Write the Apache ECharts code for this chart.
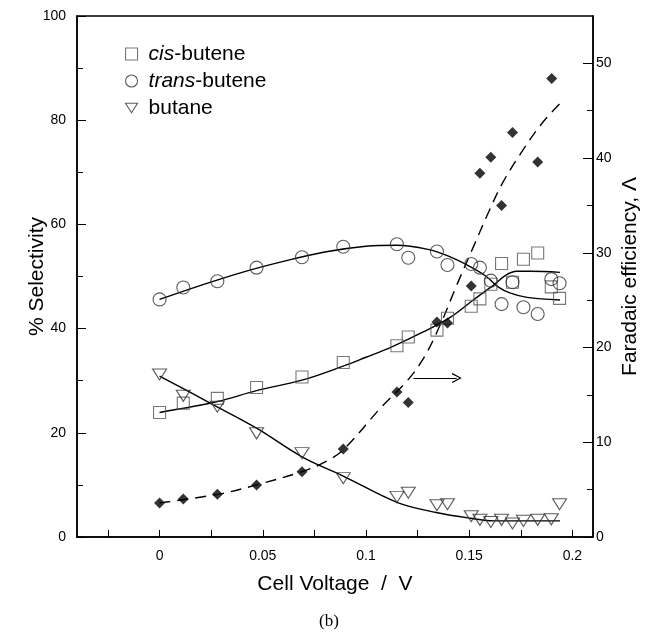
<!DOCTYPE html>
<html>
<head>
<meta charset="utf-8">
<title>Selectivity vs cell voltage</title>
<script src="https://cdn.jsdelivr.net/npm/echarts@6.0.0/dist/echarts.min.js"></script>
<style>
  html, body { margin: 0; padding: 0; background: #fff; }
  #chart { width: 650px; height: 638px; }
</style>
</head>
<body>
<div id="chart"></div>
<script>
  var voltage = [0, 0.0115, 0.028, 0.047, 0.069, 0.089, 0.115, 0.1205, 0.1344, 0.1395, 0.151, 0.1552, 0.1605, 0.1657, 0.171, 0.1763, 0.1832, 0.1898, 0.1938];
  var cisButene = [23.9, 25.7, 26.6, 28.7, 30.7, 33.5, 36.7, 38.4, 39.7, 42.0, 44.3, 45.7, 48.5, 52.5, 48.9, 53.3, 54.5, 48.0, 45.8];
  var transButene = [45.6, 47.9, 49.1, 51.7, 53.7, 55.7, 56.2, 53.6, 54.8, 52.2, 52.4, 51.7, 49.2, 44.7, 48.9, 44.1, 42.8, 49.5, 48.7];
  var butane = [31.2, 27.1, 25.0, 19.9, 16.1, 11.3, 7.7, 8.5, 6.1, 6.3, 4.0, 3.3, 2.9, 3.3, 2.6, 3.1, 3.3, 3.4, 6.3];

  var feVoltage = [0, 0.0115, 0.028, 0.047, 0.069, 0.089, 0.115, 0.1205, 0.1344, 0.1395, 0.151, 0.1552, 0.1605, 0.1657, 0.171, 0.1832, 0.190];
  var faradaic = [3.6, 4.0, 4.5, 5.5, 6.9, 9.3, 15.3, 14.2, 22.7, 22.6, 26.5, 38.4, 40.1, 35.0, 42.7, 39.6, 48.4];

  // fitted curves as drawn in the figure
  var transFitX = [0, 0.02, 0.04, 0.06, 0.08, 0.1, 0.115, 0.13, 0.14, 0.15, 0.158, 0.164, 0.17, 0.178, 0.194];
  var transFitY = [45.6, 48.3, 50.8, 52.9, 54.7, 55.8, 56.0, 55.2, 53.9, 52.0, 50.1, 48.0, 46.8, 46.0, 45.5];
  var cisFitX = [0, 0.028, 0.047, 0.069, 0.089, 0.1, 0.112, 0.128, 0.141, 0.152, 0.162, 0.168, 0.173, 0.18, 0.194];
  var cisFitY = [23.9, 26.0, 28.1, 30.1, 32.8, 34.5, 36.4, 39.4, 42.2, 45.5, 48.4, 50.3, 51.0, 51.0, 50.8];
  var butaneFitX = [0, 0.0245, 0.047, 0.069, 0.089, 0.1153, 0.134, 0.1505, 0.162, 0.194];
  var butaneFitY = [30.9, 25.7, 20.9, 15.4, 11.7, 6.6, 4.7, 3.6, 3.1, 3.1];
  var feFitX = [0, 0.028, 0.047, 0.069, 0.08, 0.089, 0.107, 0.12, 0.128, 0.136, 0.144, 0.152, 0.159, 0.166, 0.175, 0.185, 0.195];
  var feFitY = [3.6, 4.5, 5.5, 6.9, 7.9, 9.2, 13.6, 16.5, 18.9, 22.4, 26.6, 30.6, 34.1, 37.3, 40.5, 43.6, 46.0];

  // arrow pointing at the right axis (x from, x to, left-axis value)
  var arrowX = [0.123, 0.144];
  var arrowY = 30.5;

  // tick positions
  var xTicks = [-0.025, 0, 0.025, 0.05, 0.075, 0.1, 0.125, 0.15, 0.175, 0.2];
  var xLabels = [0, 0.05, 0.1, 0.15, 0.2];
  var feTicks = [0, 10, 20, 30, 40, 50];
  var feMinorTicks = [5, 15, 25, 35, 45];

  var font = 'Liberation Sans';
  var downTriangle = 'path://M0,0L14,0L7,11Z';
  var chevron = 'path://M0,10L5,0L10,10L8.8,10.7L5,2.6L1.2,10.7Z';

  function pairs(xs, ys) {
    return xs.map(function (x, i) { return [x, ys[i]]; });
  }

  function fitLine(name, xs, ys, axis, dashed) {
    return {
      name: name,
      type: 'line',
      yAxisIndex: axis,
      data: pairs(xs, ys),
      smooth: 0.35,
      symbol: 'none',
      silent: true,
      lineStyle: { color: '#000', width: 1.4, type: dashed ? [11, 7] : 'solid' },
      z: 2
    };
  }

  function openMarks(name, ys, symbol, size, color) {
    return {
      name: name,
      type: 'scatter',
      data: pairs(voltage, ys),
      symbol: symbol,
      symbolSize: size,
      itemStyle: { color: 'transparent', borderColor: color, borderWidth: 1.1 },
      z: 3
    };
  }

  var tickStyle = { color: '#000', width: 1 };
  var nameStyle = { fontFamily: font, fontSize: 21, color: '#000' };

  var options = {
    animation: false,
    grid: { left: 77, right: 57, top: 16, bottom: 101, outerBoundsMode: 'none',
      show: true, borderColor: '#000', borderWidth: 1.5 },
    legend: {
      orient: 'vertical',
      left: 120,
      top: 38,
      itemWidth: 12,
      itemHeight: 12,
      itemGap: 5,
      selectedMode: false,
      textStyle: {
        fontFamily: font, fontSize: 21, color: '#000', lineHeight: 22, padding: [0, 0, 0, 6],
        rich: { i: { fontFamily: font, fontSize: 21, fontStyle: 'italic', color: '#000' } }
      },
      formatter: function (name) {
        if (name === 'cis-butene') return '{i|cis}-butene';
        if (name === 'trans-butene') return '{i|trans}-butene';
        return name;
      },
      data: [
        { name: 'cis-butene', icon: 'rect', itemStyle: { color: 'transparent', borderColor: '#555', borderWidth: 1.1 } },
        { name: 'trans-butene', icon: 'circle', itemStyle: { color: 'transparent', borderColor: '#333', borderWidth: 1.1 } },
        { name: 'butane', icon: downTriangle, itemStyle: { color: 'transparent', borderColor: '#333', borderWidth: 1.1 } }
      ]
    },
    xAxis: {
      type: 'value',
      min: -0.04,
      max: 0.21,
      name: 'Cell Voltage  /  V',
      nameLocation: 'middle',
      nameGap: 37,
      nameMoveOverlap: false,
      nameTextStyle: nameStyle,
      axisLine: { show: true, onZero: false, lineStyle: { color: '#000', width: 1.5 } },
      axisTick: { show: true, inside: true, length: 7, customValues: xTicks, lineStyle: tickStyle },
      axisLabel: {
        customValues: xLabels, color: '#000', fontFamily: font, fontSize: 14, margin: 12,
        formatter: function (v) { return String(+v.toFixed(2)); }
      },
      splitLine: { show: false }
    },
    yAxis: [
      {
        type: 'value',
        position: 'left',
        min: 0,
        max: 100,
        interval: 20,
        name: '% Selectivity',
        nameLocation: 'middle',
        nameRotate: 90,
        nameGap: 29,
        nameMoveOverlap: false,
        nameTextStyle: nameStyle,
        axisLine: { show: true, onZero: false, lineStyle: { color: '#000', width: 1.5 } },
        axisTick: { show: true, inside: true, length: 9, lineStyle: tickStyle },
        minorTick: { show: true, splitNumber: 2, length: 6, lineStyle: tickStyle },
        axisLabel: { color: '#000', fontFamily: font, fontSize: 14, margin: 11 },
        splitLine: { show: false }
      },
      {
        type: 'value',
        position: 'right',
        min: 0,
        max: 55,
        name: 'Faradaic efficiency, \u039B',
        nameLocation: 'middle',
        nameRotate: 90,
        nameGap: 27,
        nameMoveOverlap: false,
        nameTextStyle: nameStyle,
        axisLine: { show: true, onZero: false, lineStyle: { color: '#000', width: 1.5 } },
        axisTick: { show: true, inside: true, length: 10, customValues: feTicks, lineStyle: tickStyle },
        axisLabel: { customValues: feTicks, color: '#000', fontFamily: font, fontSize: 14, margin: 3 },
        splitLine: { show: false }
      },
      {
        type: 'value',
        position: 'right',
        min: 0,
        max: 55,
        axisLine: { show: false, onZero: false },
        axisTick: { show: true, inside: true, length: 6, customValues: feMinorTicks, lineStyle: tickStyle },
        axisLabel: { show: false },
        splitLine: { show: false }
      }
    ],
    graphic: [
      {
        type: 'text',
        style: { text: '(b)', x: 329, y: 622, align: 'center', verticalAlign: 'middle',
          fontFamily: 'Liberation Serif', fontSize: 17, fill: '#000' }
      }
    ],
    series: [
      fitLine('trans fit', transFitX, transFitY, 0, false),
      fitLine('cis fit', cisFitX, cisFitY, 0, false),
      fitLine('butane fit', butaneFitX, butaneFitY, 0, false),
      fitLine('fe fit', feFitX, feFitY, 1, true),
      openMarks('cis-butene', cisButene, 'rect', 12, '#555'),
      openMarks('trans-butene', transButene, 'circle', 13, '#333'),
      openMarks('butane', butane, downTriangle, [14, 11], '#333'),
      {
        name: 'Faradaic efficiency',
        type: 'scatter',
        yAxisIndex: 1,
        data: pairs(feVoltage, faradaic),
        symbol: 'diamond',
        symbolSize: 11,
        itemStyle: { color: '#000' },
        z: 4,
        markLine: {
          silent: true,
          symbol: ['none', chevron],
          symbolSize: [10, 10],
          label: { show: false },
          lineStyle: { color: '#000', width: 1, type: 'solid' },
          data: [[
            { xAxis: arrowX[0], yAxis: arrowY * 55 / 100 },
            { xAxis: arrowX[1], yAxis: arrowY * 55 / 100 }
          ]]
        }
      }
    ]
  };

  var myChart = echarts.init(document.getElementById('chart'));
  myChart.setOption(options);
</script>
</body>
</html>
